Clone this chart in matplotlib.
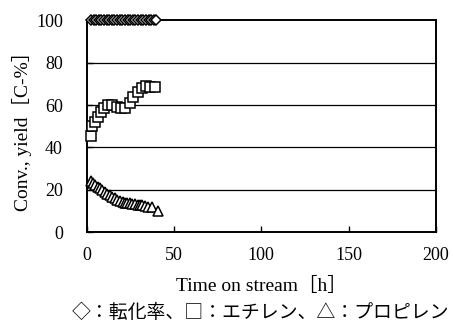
import matplotlib.pyplot as plt

# conversion (diamonds), ethylene (squares), propylene (triangles)
conv_t = [2.5, 4, 5.5, 7, 8.5, 10, 11.5, 13, 14.5, 16, 17.5, 19, 20.5, 22, 23.5,
          25, 26.5, 28, 29.5, 31, 32.5, 34, 35.5, 37, 38.5, 40]
conv_v = [100] * len(conv_t)

eth_t = [2.4, 3.3, 4.9, 6.4, 8.3, 10.2, 12.4, 14.7, 17.2, 19.7, 22.0, 24.9,
         26.8, 29.3, 31.6, 34.0, 36.3, 39.2]
eth_v = [45.5, 50, 52, 54.5, 56.5, 58.5, 60, 60, 59, 58.5, 58.5, 61,
         64, 66, 68, 69, 68.5, 68.5]

pro_t = [2.4, 3.6, 4.9, 6.3, 7.7, 9.1, 10.6, 12.0, 13.4, 14.8, 16.3, 17.7, 19.2,
         20.6, 22.0, 23.4, 24.9, 26.3, 27.8, 29.2, 30.6, 32.0, 33.5, 35.4, 37.3, 41.0]
pro_v = [24.0, 23.0, 22.0, 21.3, 20.6, 19.8, 19.0, 18.2, 17.5, 16.7, 16.0, 15.2, 14.5,
         14.0, 13.6, 13.6, 13.6, 13.4, 13.2, 13.0, 12.8, 12.6, 12.3, 12.0, 11.7, 10.0]

xticks = [0, 50, 100, 150, 200]
yticks = [0, 20, 40, 60, 80, 100]

serif = ['Liberation Serif', 'Noto Sans CJK JP']

fig = plt.figure(figsize=(4.53, 3.29), dpi=100)
ax = fig.add_axes([0.191, 0.2948, 0.7715, 0.643])

for y in [20, 40, 60, 80]:
    ax.axhline(y, color='black', lw=0.9, zorder=1)

mk = dict(linestyle='none', markerfacecolor='white', markeredgecolor='black',
          markeredgewidth=1.1, zorder=3, clip_on=False)
ax.plot(pro_t, pro_v, marker='^', markersize=7.5, **mk)
ax.plot(eth_t, eth_v, marker='s', markersize=7, **mk)
ax.plot(conv_t, conv_v, marker='D', markersize=5.5, **mk)

ax.set_xlim(0, 200)
ax.set_ylim(0, 100)
ax.set_xticks(xticks)
ax.set_yticks(yticks)
ax.tick_params(direction='in', length=4, width=1, color='black')
ax.tick_params(axis='y', pad=17)
ax.tick_params(axis='x', pad=11)
for lab in ax.get_xticklabels() + ax.get_yticklabels():
    lab.set_fontfamily(serif)
    lab.set_fontsize(13)
for s in ax.spines.values():
    s.set_linewidth(1.4)

ax.set_xlabel('Time on stream［h］', family=serif, fontsize=14, labelpad=9)
ax.set_ylabel('Conv., yield［C-%］', family=serif, fontsize=14, labelpad=3)

fig.text(0.576, 1 - 312 / 329, '◇：転化率、□：エチレン、△：プロピレン',
         family=['Noto Sans CJK JP', 'DejaVu Sans'], fontsize=13.6,
         ha='center', va='center')

fig.savefig('out.png', dpi=100)
